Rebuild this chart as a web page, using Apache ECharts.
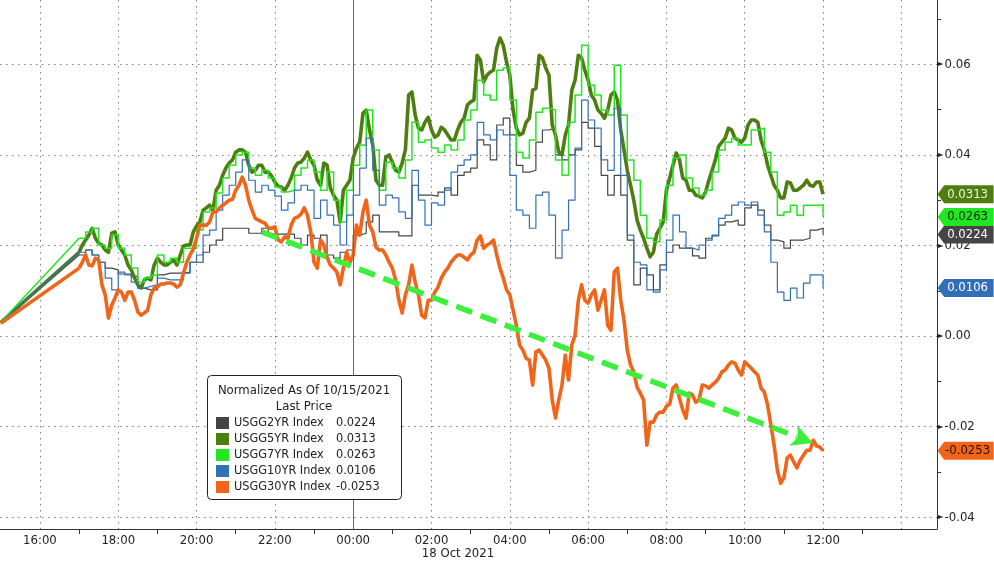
<!DOCTYPE html>
<html>
<head>
<meta charset="utf-8">
<script src="https://cdn.jsdelivr.net/npm/echarts/dist/echarts.min.js"></script>
<style>
html,body{margin:0;padding:0;background:#fff;}
#chart{width:994px;height:563px;}
</style>
</head>
<body>
<div id="chart"></div>
<script>
// ---------- DATA ----------
// x values are hours after 16:00 (Sun 17 Oct 2021 session); 8 = 00:00 18 Oct 2021
var names = ['USGG2YR Index', 'USGG5YR Index', 'USGG7YR Index', 'USGG10YR Index', 'USGG30YR Index'];
var lastPrices = [0.0224, 0.0313, 0.0263, 0.0106, -0.0253];
// Friday 15:00 close point (left edge), then the session resumes at 17:00
var startHour = -1;
var startValues = [0.0030, 0.0030, 0.0031, 0.0030, 0.0028];
var sampleStartHour = 1;      // 17:00
// reading interval (minutes) of each series, 17:00 .. 12:00
var sampleStepMinutes = [10, 5, 10, 10, 5];

// 10-minute readings
var usgg2 = [0.0179,0.0190,0.0179,0.0163,0.0150,0.0146,0.0137,0.0137,0.0132,0.0106,
 0.0102,0.0102,0.0135,0.0139,0.0139,0.0139,0.0141,0.0163,0.0163,0.0185,
 0.0201,0.0212,0.0238,0.0238,0.0238,0.0238,0.0227,0.0227,0.0238,0.0225,
 0.0225,0.0225,0.0225,0.0216,0.0201,0.0223,0.0216,0.0223,0.0179,0.0172,
 0.0185,0.0190,0.0223,0.0227,0.0252,0.0267,0.0230,0.0230,0.0230,0.0221,
 0.0221,0.0333,0.0311,0.0311,0.0309,0.0318,0.0327,0.0311,0.0355,0.0362,
 0.0371,0.0433,0.0422,0.0389,0.0466,0.0481,0.0444,0.0377,0.0362,0.0366,
 0.0428,0.0455,0.0459,0.0400,0.0389,0.0400,0.0411,0.0472,0.0459,0.0419,
 0.0355,0.0311,0.0355,0.0311,0.0212,0.0113,0.0150,0.0135,0.0102,0.0157,
 0.0185,0.0201,0.0194,0.0194,0.0177,0.0172,0.0216,0.0221,0.0245,0.0252,
 0.0256,0.0245,0.0283,0.0289,0.0278,0.0245,0.0212,0.0208,0.0194,0.0212,
 0.0212,0.0216,0.0234,0.0238,0.0224];

// 5-minute readings
var usgg5 = [0.0185,0.0201,0.0212,0.0223,0.0238,0.0216,0.0205,0.0201,0.0190,0.0185,
 0.0227,0.0230,0.0201,0.0190,0.0179,0.0157,0.0146,0.0128,0.0113,0.0106,
 0.0124,0.0128,0.0124,0.0157,0.0172,0.0163,0.0157,0.0157,0.0163,0.0168,
 0.0157,0.0179,0.0199,0.0201,0.0201,0.0230,0.0243,0.0252,0.0278,0.0283,
 0.0289,0.0278,0.0322,0.0333,0.0355,0.0371,0.0382,0.0389,0.0406,0.0411,
 0.0411,0.0406,0.0377,0.0362,0.0366,0.0377,0.0377,0.0362,0.0362,0.0353,
 0.0340,0.0331,0.0329,0.0322,0.0333,0.0349,0.0371,0.0382,0.0384,0.0393,
 0.0406,0.0389,0.0377,0.0344,0.0333,0.0382,0.0377,0.0327,0.0311,0.0300,
 0.0252,0.0322,0.0333,0.0344,0.0393,0.0415,0.0428,0.0492,0.0499,0.0455,
 0.0422,0.0344,0.0333,0.0333,0.0395,0.0400,0.0384,0.0366,0.0362,0.0382,
 0.0411,0.0532,0.0539,0.0488,0.0459,0.0455,0.0472,0.0483,0.0455,0.0439,
 0.0444,0.0461,0.0455,0.0444,0.0433,0.0433,0.0455,0.0472,0.0481,0.0510,
 0.0517,0.0521,0.0620,0.0609,0.0561,0.0576,0.0583,0.0587,0.0636,0.0658,
 0.0642,0.0605,0.0576,0.0499,0.0459,0.0444,0.0448,0.0472,0.0481,0.0543,
 0.0547,0.0620,0.0614,0.0592,0.0576,0.0466,0.0444,0.0406,0.0400,0.0444,
 0.0466,0.0543,0.0565,0.0620,0.0614,0.0587,0.0565,0.0532,0.0521,0.0499,
 0.0492,0.0481,0.0499,0.0532,0.0539,0.0521,0.0455,0.0411,0.0366,0.0333,
 0.0300,0.0256,0.0234,0.0216,0.0194,0.0175,0.0185,0.0225,0.0238,0.0252,
 0.0322,0.0349,0.0377,0.0404,0.0389,0.0349,0.0344,0.0322,0.0322,0.0311,
 0.0309,0.0305,0.0318,0.0344,0.0366,0.0389,0.0419,0.0428,0.0437,0.0459,
 0.0455,0.0437,0.0433,0.0428,0.0437,0.0466,0.0477,0.0477,0.0472,0.0433,
 0.0411,0.0377,0.0355,0.0333,0.0322,0.0305,0.0305,0.0340,0.0338,0.0322,
 0.0322,0.0327,0.0333,0.0344,0.0333,0.0331,0.0340,0.0340,0.0313];

// 10-minute readings
var usgg7 = [0.0216,0.0230,0.0238,0.0201,0.0194,0.0223,0.0194,0.0179,0.0150,0.0119,
 0.0128,0.0135,0.0179,0.0163,0.0172,0.0163,0.0194,0.0194,0.0234,0.0274,
 0.0283,0.0316,0.0349,0.0377,0.0400,0.0406,0.0371,0.0355,0.0366,0.0349,
 0.0329,0.0318,0.0322,0.0355,0.0371,0.0389,0.0362,0.0322,0.0362,0.0300,
 0.0252,0.0322,0.0377,0.0422,0.0499,0.0411,0.0322,0.0384,0.0371,0.0349,
 0.0389,0.0472,0.0428,0.0433,0.0415,0.0406,0.0422,0.0411,0.0433,0.0477,
 0.0499,0.0565,0.0532,0.0521,0.0587,0.0592,0.0521,0.0406,0.0393,0.0433,
 0.0494,0.0503,0.0499,0.0389,0.0355,0.0472,0.0532,0.0642,0.0554,0.0532,
 0.0499,0.0488,0.0598,0.0488,0.0389,0.0344,0.0267,0.0216,0.0208,0.0256,
 0.0333,0.0393,0.0400,0.0349,0.0327,0.0311,0.0322,0.0362,0.0411,0.0428,
 0.0437,0.0422,0.0422,0.0455,0.0459,0.0406,0.0362,0.0267,0.0274,0.0289,
 0.0267,0.0289,0.0289,0.0289,0.0263];

// 10-minute readings
var usgg10 = [0.0185,0.0190,0.0179,0.0163,0.0128,0.0102,0.0141,0.0135,0.0119,0.0106,
 0.0110,0.0113,0.0128,0.0124,0.0124,0.0124,0.0139,0.0163,0.0179,0.0223,
 0.0234,0.0278,0.0311,0.0333,0.0362,0.0389,0.0344,0.0318,0.0333,0.0322,
 0.0309,0.0278,0.0294,0.0322,0.0333,0.0322,0.0260,0.0300,0.0267,0.0245,
 0.0201,0.0267,0.0311,0.0371,0.0437,0.0366,0.0289,0.0311,0.0305,0.0274,
 0.0260,0.0366,0.0300,0.0245,0.0294,0.0289,0.0322,0.0362,0.0377,0.0389,
 0.0400,0.0472,0.0444,0.0433,0.0455,0.0444,0.0355,0.0278,0.0267,0.0238,
 0.0311,0.0318,0.0267,0.0172,0.0234,0.0300,0.0415,0.0521,0.0477,0.0459,
 0.0389,0.0366,0.0503,0.0355,0.0223,0.0163,0.0157,0.0102,0.0097,0.0146,
 0.0212,0.0267,0.0230,0.0194,0.0190,0.0201,0.0212,0.0223,0.0260,0.0267,
 0.0289,0.0296,0.0289,0.0296,0.0267,0.0230,0.0163,0.0097,0.0079,0.0106,
 0.0084,0.0117,0.0135,0.0135,0.0106];

// 5-minute readings
var usgg30 = [0.0150,0.0163,0.0179,0.0157,0.0155,0.0172,0.0168,0.0113,0.0091,0.0040,
 0.0068,0.0084,0.0102,0.0097,0.0079,0.0097,0.0097,0.0079,0.0053,0.0046,
 0.0051,0.0057,0.0091,0.0106,0.0108,0.0115,0.0115,0.0117,0.0117,0.0115,
 0.0108,0.0113,0.0139,0.0163,0.0179,0.0192,0.0216,0.0245,0.0245,0.0245,
 0.0252,0.0274,0.0274,0.0283,0.0289,0.0294,0.0300,0.0302,0.0322,0.0333,
 0.0351,0.0333,0.0300,0.0278,0.0260,0.0256,0.0252,0.0249,0.0238,0.0238,
 0.0241,0.0212,0.0208,0.0219,0.0216,0.0245,0.0260,0.0263,0.0269,0.0283,
 0.0267,0.0230,0.0163,0.0150,0.0212,0.0201,0.0174,0.0157,0.0150,0.0141,
 0.0113,0.0150,0.0185,0.0163,0.0179,0.0245,0.0223,0.0274,0.0300,0.0245,
 0.0230,0.0196,0.0190,0.0190,0.0179,0.0163,0.0150,0.0124,0.0079,0.0051,
 0.0091,0.0113,0.0157,0.0119,0.0091,0.0046,0.0040,0.0079,0.0079,0.0097,
 0.0108,0.0128,0.0141,0.0150,0.0163,0.0172,0.0179,0.0179,0.0174,0.0168,
 0.0179,0.0185,0.0212,0.0221,0.0194,0.0201,0.0205,0.0212,0.0179,0.0150,
 0.0128,0.0102,0.0091,0.0057,0.0024,-0.0020,-0.0031,-0.0049,-0.0053,-0.0108,
 -0.0035,-0.0031,-0.0042,-0.0053,-0.0071,-0.0141,-0.0181,-0.0141,-0.0108,-0.0042,
 -0.0097,-0.0020,0.0002,0.0079,0.0113,0.0079,0.0073,0.0091,0.0102,0.0057,
 0.0079,0.0102,0.0024,0.0013,0.0141,0.0150,0.0079,0.0035,-0.0031,-0.0064,
 -0.0079,-0.0113,-0.0126,-0.0141,-0.0241,-0.0190,-0.0190,-0.0174,-0.0168,-0.0168,
 -0.0155,-0.0150,-0.0115,-0.0108,-0.0137,-0.0163,-0.0181,-0.0126,-0.0130,-0.0146,
 -0.0141,-0.0108,-0.0110,-0.0115,-0.0108,-0.0102,-0.0093,-0.0079,-0.0075,-0.0064,
 -0.0057,-0.0060,-0.0075,-0.0086,-0.0057,-0.0064,-0.0071,-0.0079,-0.0086,-0.0115,
 -0.0124,-0.0152,-0.0196,-0.0241,-0.0296,-0.0325,-0.0313,-0.0269,-0.0263,-0.0278,
 -0.0291,-0.0274,-0.0263,-0.0252,-0.0252,-0.0230,-0.0243,-0.0245,-0.0253];

var seriesValues = [usgg2, usgg5, usgg7, usgg10, usgg30];

// axis ticks
var xGridHours = [0, 2, 4, 6, 8, 10, 12, 14, 16, 18, 20, 22];
var xLabelHours = [0, 2, 4, 6, 8, 10, 12, 14, 16, 18, 20];
var xMinorHours = [1, 3, 5, 7, 9, 11, 13, 15, 17, 19, 21];
var dayBoundaryHour = 8;
var yLabelValues = [-0.04, -0.02, 0, 0.02, 0.04, 0.06];
var yMinorValues = [-0.03, -0.01, 0.01, 0.03, 0.05, 0.07];

// annotation arrow (hours, value): tail, and tip of the head
var arrowStart = [5.67, 0.0230];
var arrowEnd = [19.74, -0.0236];

// ---------- STYLE ----------
var FONT = '"DejaVu Sans Condensed", "Liberation Sans", sans-serif';
var colors = ['#454545', '#4e7d10', '#22e622', '#3170b8', '#f06519'];
var widths = [1.2, 3.6, 1.5, 1.2, 3.6];
var steps = ['end', false, 'end', 'end', false];
var tagText = ['#ffffff', '#eef5e0', '#0d2a0d', '#ffffff', '#2a1200'];
var arrowColor = '#3def3d';
var headLength = 21, headHalfWidth = 11, headNotch = 5;
var xMin = -1.02, xMax = 22.91, yMin = -0.0426, yMax = 0.0742;

function hourLabel(h) {
  var hh = (16 + h) % 24;
  return (hh < 10 ? '0' : '') + hh + ':00';
}

var series = [];
// weekend bridges (Friday close -> Sunday open)
seriesValues.forEach(function (vals, i) {
  series.push({
    type: 'line', silent: true, symbol: 'none', z: 2 + i * 0.1,
    data: [[startHour, startValues[i]], [sampleStartHour, vals[0]]],
    lineStyle: { color: colors[i], width: widths[i] }
  });
});
seriesValues.forEach(function (vals, i) {
  series.push({
    name: names[i], type: 'line', symbol: 'none', step: steps[i], z: 3 + i * 0.1,
    data: vals.map(function (v, k) { return [sampleStartHour + k * sampleStepMinutes[i] / 60, v]; }),
    itemStyle: { color: colors[i] },
    lineStyle: { color: colors[i], width: widths[i], join: 'round' },
    emphasis: { disabled: true },
    markPoint: {
      silent: true,
      symbol: 'path://M0,9 L7,0 L60,0 L60,18 L7,18 Z',
      symbolSize: [56, 18],
      symbolKeepAspect: false,
      symbolOffset: [29, 0],
      itemStyle: { color: colors[i] },
      label: {
        show: true, position: 'inside', offset: [2, 0],
        color: tagText[i], fontSize: 13, fontFamily: FONT,
        formatter: function (p) { return p.value.toFixed(4); }
      },
      data: [{ coord: [xMax - 0.01, lastPrices[i]], value: lastPrices[i] }]
    }
  });
});
// 00:00 day boundary
series.push({
  type: 'line', data: [], z: 1, silent: true,
  markLine: {
    silent: true, symbol: 'none', animation: false,
    label: { show: false },
    lineStyle: { color: '#6a6a6a', type: 'solid', width: 1 },
    data: [{ xAxis: dayBoundaryHour }]
  }
});

var staticGraphics = [
  { type: 'rect', z: 15, silent: true, shape: { x: 207.5, y: 375.5, width: 194, height: 124, r: 4 },
    style: { fill: '#ffffff', stroke: '#222', lineWidth: 1 } },
  { type: 'text', z: 16, silent: true, x: 304, y: 391,
    style: { text: 'Normalized As Of 10/15/2021', font: '13px ' + FONT, fill: '#222', textAlign: 'center', textVerticalAlign: 'middle' } },
  { type: 'text', z: 16, silent: true, x: 304, y: 407,
    style: { text: 'Last Price', font: '13px ' + FONT, fill: '#222', textAlign: 'center', textVerticalAlign: 'middle' } },
  { type: 'text', z: 16, silent: true, x: 458, y: 554,
    style: { text: '18 Oct 2021', font: '13px ' + FONT, fill: '#222', textAlign: 'center', textVerticalAlign: 'middle' } }
];

var option = {
  animation: false,
  backgroundColor: '#ffffff',
  grid: { left: 0, right: 57, top: 0, bottom: 34, outerBoundsMode: 'none', containLabel: false },
  xAxis: [{
    type: 'value', min: xMin, max: xMax,
    axisLine: { show: true, onZero: false, lineStyle: { color: '#333', width: 1 } },
    axisTick: { show: false, customValues: xGridHours },
    axisLabel: {
      customValues: xLabelHours, margin: 5, color: '#222', fontSize: 13, fontFamily: FONT,
      formatter: function (v) { return hourLabel(v); }
    },
    splitLine: { show: true, lineStyle: { color: '#808080', type: [1.5, 4.5], width: 1 } }
  }, {
    type: 'value', min: xMin, max: xMax, position: 'bottom', offset: 0,
    axisLine: { show: false, onZero: false },
    axisTick: { show: true, customValues: xMinorHours, length: 5, lineStyle: { color: '#333' } },
    axisLabel: { show: false },
    splitLine: { show: false }
  }],
  yAxis: [{
    type: 'value', position: 'right', min: yMin, max: yMax,
    axisLine: { show: true, onZero: false, lineStyle: { color: '#333', width: 1 } },
    axisTick: { show: false, customValues: yLabelValues },
    axisLabel: {
      customValues: yLabelValues, margin: 1, color: '#222', fontSize: 13, fontFamily: FONT,
      formatter: function (v) { return '{a|\u25BA}' + v.toFixed(2); },
      rich: { a: { fontSize: 8, color: '#222', padding: [0, 1, 0, 0] } }
    },
    splitLine: { show: true, lineStyle: { color: '#808080', type: [1.5, 4.5], width: 1 } }
  }, {
    type: 'value', position: 'right', min: yMin, max: yMax, offset: 0,
    axisLine: { show: false, onZero: false },
    axisTick: { show: true, customValues: yMinorValues, length: 4, lineStyle: { color: '#333' } },
    axisLabel: { show: false },
    splitLine: { show: false }
  }],
  legend: {
    data: names, orient: 'vertical', left: 216, top: 416, z: 20, padding: 0,
    icon: 'rect', itemWidth: 13, itemHeight: 12, itemGap: 2,
    selectedMode: false,
    textStyle: {
      color: '#222', fontSize: 12.6, fontFamily: FONT, lineHeight: 14,
      rich: { n: { width: 102, fontSize: 12.6, fontFamily: FONT, color: '#222' },
              v: { fontSize: 12.6, fontFamily: FONT, color: '#222' } }
    },
    formatter: function (name) {
      var i = names.indexOf(name);
      return '{n|' + name + '}{v|' + lastPrices[i].toFixed(4) + '}';
    }
  },
  graphic: staticGraphics,
  series: series
};

var chart = echarts.init(document.getElementById('chart'), null, { renderer: 'canvas' });
chart.setOption(option);

// green trend arrow, positioned through the chart's own scales
var p0 = chart.convertToPixel({ gridIndex: 0 }, arrowStart);
var p1 = chart.convertToPixel({ gridIndex: 0 }, arrowEnd);
var dx = p1[0] - p0[0], dy = p1[1] - p0[1];
var len = Math.sqrt(dx * dx + dy * dy);
var ux = dx / len, uy = dy / len, nx = -uy, ny = ux;
var bx = p1[0] - ux * headLength, by = p1[1] - uy * headLength;
var sx = p1[0] - ux * (headLength - 4), sy = p1[1] - uy * (headLength - 4);
chart.setOption({
  graphic: staticGraphics.concat([
    { type: 'line', z: 12, silent: true,
      shape: { x1: p0[0], y1: p0[1], x2: sx, y2: sy },
      style: { stroke: arrowColor, lineWidth: 5.5, lineDash: [17, 9] } },
    { type: 'polygon', z: 12, silent: true,
      shape: { points: [
        [p1[0], p1[1]],
        [bx + nx * headHalfWidth, by + ny * headHalfWidth],
        [bx + ux * headNotch, by + uy * headNotch],
        [bx - nx * headHalfWidth, by - ny * headHalfWidth]
      ] },
      style: { fill: arrowColor } }
  ])
});
</script>
</body>
</html>
